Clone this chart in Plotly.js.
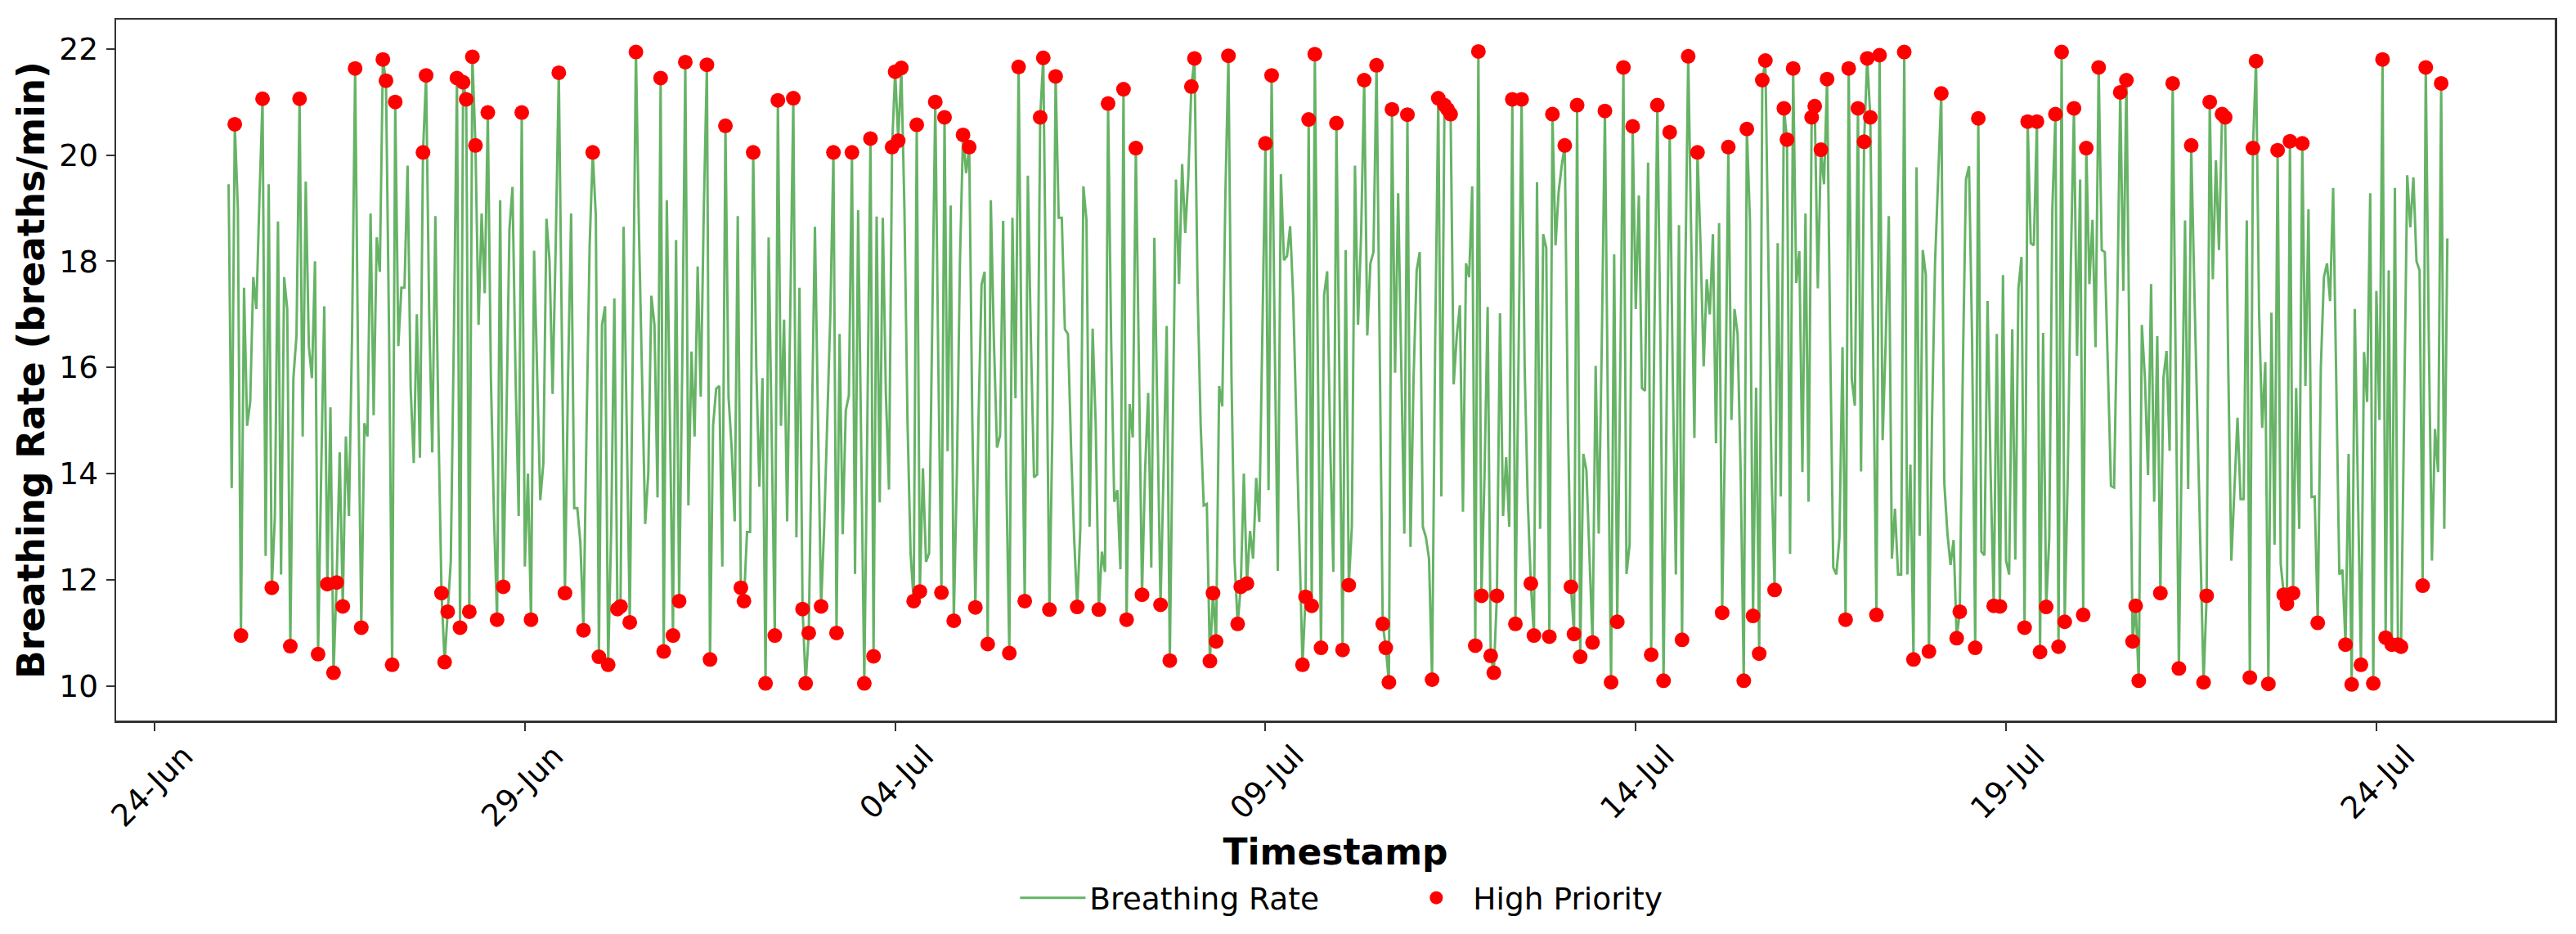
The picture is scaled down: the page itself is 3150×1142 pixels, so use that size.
<!DOCTYPE html>
<html>
<head>
<meta charset="utf-8">
<script src="https://cdn.plot.ly/plotly-3.0.1.min.js"></script>
<style>
  html, body { margin: 0; padding: 0; background: #fff; }
  #chart { width: 3150px; height: 1142px; }
</style>
</head>
<body>
<div id="chart"></div>
<script>
// hourly readings, one row per day, starting 25-Jun 00:00
const START_UTC = Date.UTC(2024, 5, 25, 0);
const BREATHING_RATE = [
  19.45, 13.73, 20.58, 19.0, 10.95, 17.5, 14.9, 15.35, 17.7, 17.1, 19.2, 21.06, 12.45, 19.45, 11.85, 13.2, 18.75, 12.1, 17.7, 17.1, 10.75, 15.8, 16.6, 21.06,
  14.7, 19.5, 16.4, 15.8, 18.0, 10.6, 14.0, 17.15, 11.92, 15.25, 10.25, 11.95, 14.4, 11.5, 14.7, 13.2, 16.6, 21.63, 15.8, 11.1, 14.95, 14.7, 18.9, 15.1,
  18.45, 17.8, 21.8, 21.4, 16.6, 10.4, 21.0, 16.4, 17.5, 17.5, 19.8, 15.6, 14.2, 17.0, 14.3, 20.05, 21.5, 17.0, 14.4, 18.85, 14.9, 11.75, 10.45, 11.4,
  12.35, 16.6, 21.45, 11.1, 21.37, 21.05, 11.4, 21.85, 20.18, 16.8, 18.9, 17.4, 20.8, 15.8, 13.2, 11.25, 19.15, 11.87, 14.9, 18.6, 19.4, 15.8, 13.2, 20.8,
  12.25, 14.0, 11.25, 18.2, 15.8, 13.5, 14.2, 18.8, 18.0, 15.5, 18.3, 21.55, 16.6, 11.75, 15.8, 18.9, 13.35, 13.35, 12.7, 11.05, 14.9, 18.3, 20.05, 18.85,
  10.55, 16.8, 17.15, 10.4, 13.0, 17.3, 11.45, 11.5, 18.65, 15.0, 11.2, 16.5, 21.94, 18.5, 15.5, 13.05, 14.0, 17.35, 16.8, 13.55, 21.45, 10.65, 19.15, 15.0,
  10.95, 18.4, 11.6, 16.0, 21.75, 13.4, 16.3, 14.7, 17.9, 15.45, 19.0, 21.7, 10.5, 14.9, 15.6, 15.65, 12.25, 20.55, 15.45, 14.5, 13.1, 18.85, 11.85, 11.6,
  12.9, 12.9, 20.05, 16.0, 13.75, 15.8, 10.05, 18.45, 15.0, 10.95, 21.03, 14.9, 16.9, 13.1, 17.0, 21.07, 12.8, 17.5, 11.45, 10.05, 11.0, 15.0, 18.65, 15.0,
  11.5, 13.0, 15.0, 17.0, 20.05, 11.0, 16.63, 12.86, 15.19, 15.47, 20.05, 12.11, 18.96, 14.5, 10.05, 15.0, 20.31, 10.56, 18.84, 13.46, 18.82, 15.5, 13.7, 20.15,
  21.57, 20.27, 21.64, 19.0, 15.0, 12.5, 11.6, 20.57, 11.78, 14.1, 12.34, 12.5, 17.0, 21.0, 16.0, 11.76, 20.71, 14.42, 19.05, 11.23, 14.0, 18.0, 20.38, 19.66,
  20.15, 15.0, 11.48, 15.0, 17.56, 17.8, 10.79, 19.15, 16.5, 14.49, 14.72, 18.76, 14.0, 10.62, 18.82, 15.42, 21.66, 16.0, 11.6, 19.61, 16.5, 13.93, 13.98, 20.71,
  21.83, 17.0, 11.44, 15.0, 21.48, 18.82, 18.82, 16.72, 16.63, 14.5, 12.8, 11.49, 12.96, 19.41, 18.77, 13.0, 16.73, 14.9, 11.44, 12.53, 12.15, 20.97, 16.5, 13.47,
  13.69, 12.2, 21.24, 11.25, 15.31, 14.68, 20.13, 16.0, 11.72, 14.07, 15.52, 12.23, 18.44, 15.0, 11.53, 14.07, 16.78, 10.48, 14.9, 19.54, 17.57, 19.83, 18.53, 19.6,
  21.29, 21.82, 17.49, 14.92, 13.4, 13.43, 10.47, 11.75, 10.84, 15.65, 15.27, 19.2, 21.87, 15.78, 12.36, 11.17, 11.87, 14.0, 11.93, 12.92, 12.4, 13.92, 13.09, 16.5,
  20.22, 13.69, 21.5, 16.5, 12.17, 19.64, 18.02, 18.1, 18.66, 17.3, 15.0, 12.5, 10.4, 11.68, 20.67, 11.51, 21.9, 16.0, 10.72, 17.36, 17.81, 14.5, 12.15, 20.6,
  15.5, 10.68, 18.21, 11.9, 13.0, 19.8, 16.8, 18.5, 21.41, 16.6, 17.96, 18.17, 21.69, 16.0, 11.17, 10.72, 10.07, 20.86, 15.9, 19.28, 15.8, 12.87, 20.76, 12.62,
  15.8, 17.83, 18.17, 13.0, 12.8, 12.4, 10.12, 16.5, 21.07, 13.57, 20.94, 20.86, 20.77, 15.68, 16.6, 17.17, 13.28, 17.96, 17.7, 19.41, 10.76, 21.95, 11.7, 14.0,
  17.14, 10.57, 10.25, 11.7, 17.02, 13.2, 14.31, 13.0, 21.05, 11.17, 16.0, 21.05, 16.0, 13.5, 11.93, 10.95, 19.49, 12.96, 18.51, 18.25, 10.93, 20.77, 18.3, 19.3,
  19.8, 20.18, 15.0, 11.87, 10.98, 20.94, 10.55, 14.37, 14.07, 12.5, 10.82, 16.03, 12.87, 16.5, 20.83, 15.0, 10.07, 18.13, 11.21, 16.0, 21.65, 12.11, 12.66, 20.54,
  17.1, 19.24, 15.61, 15.56, 19.86, 10.59, 16.6, 20.94, 16.5, 10.1, 15.0, 20.43, 15.8, 12.1, 18.68, 10.87, 17.5, 21.86, 18.34, 14.67, 20.05, 18.3, 16.02, 17.66,
  17.0, 18.51, 14.57, 18.72, 11.38, 15.01, 20.15, 15.01, 17.1, 16.63, 14.0, 10.1, 20.49, 18.77, 11.32, 15.62, 10.61, 21.41, 21.78, 17.5, 14.0, 11.81, 18.34, 13.57,
  20.88, 20.29, 12.49, 21.63, 17.59, 18.19, 14.03, 18.9, 13.47, 20.71, 20.92, 17.49, 20.1, 19.45, 21.43, 16.5, 12.23, 12.1, 12.79, 16.38, 11.25, 21.63, 15.78, 15.28,
  20.88, 14.04, 20.25, 21.82, 20.71, 16.0, 11.34, 21.88, 14.63, 16.5, 18.85, 12.4, 13.34, 12.1, 12.1, 21.94, 12.1, 14.17, 10.5, 19.77, 12.83, 18.21, 17.74, 10.65,
  15.0, 18.0, 19.5, 21.16, 13.81, 12.87, 12.28, 12.75, 10.9, 11.4, 16.0, 19.54, 19.79, 16.5, 10.72, 20.69, 12.53, 12.46, 17.25, 14.0, 11.51, 16.63, 11.5, 17.74,
  12.36, 12.1, 16.72, 12.38, 17.49, 18.08, 11.1, 20.63, 18.34, 18.3, 20.63, 10.64, 16.65, 11.49, 12.79, 19.0, 20.77, 10.74, 21.94, 11.21, 14.0, 18.0, 20.88, 16.22,
  19.54, 11.34, 20.13, 17.57, 18.78, 16.38, 21.65, 18.21, 18.17, 15.8, 13.77, 13.74, 17.0, 21.18, 17.44, 21.41, 15.8, 10.84, 11.51, 10.1, 16.8, 15.8, 13.97, 17.57,
  13.47, 16.59, 11.75, 15.8, 16.31, 14.43, 21.35, 15.8, 10.33, 14.9, 18.77, 13.71, 20.18, 17.5, 14.9, 12.4, 10.07, 11.7, 21.0, 17.66, 19.9, 18.21, 20.77, 20.71,
  16.0, 12.36, 13.64, 15.05, 13.52, 13.52, 18.77, 10.16, 20.13, 21.77, 17.0, 14.86, 16.1, 10.04, 17.03, 12.66, 20.09, 12.3, 11.72, 11.55, 20.26, 11.75, 15.61, 12.96,
  20.22, 15.65, 18.98, 13.56, 13.57, 11.19, 16.0, 17.7, 17.96, 17.25, 19.38, 15.5, 12.1, 12.19, 10.78, 14.37, 10.03, 17.1, 14.0, 10.4, 16.29, 15.35, 19.28, 10.05,
  17.44, 15.01, 21.8, 10.91, 17.83, 10.78, 19.38, 10.78, 10.74, 15.0, 19.62, 18.64, 19.58, 18.0, 17.83, 11.89, 21.65, 16.5, 12.36, 14.84, 14.03, 21.35, 12.96, 18.43
];

// readings outside the normal band get flagged
const LOW_LIMIT = 12;
const HIGH_LIMIT = 20;

const FONT = 'DejaVu Sans, Verdana, sans-serif';
const AXIS_COLOR = '#333';

function pad(n) { return String(n).padStart(2, '0'); }

function hourStamp(i) {
    const d = new Date(START_UTC + i * 3600 * 1000);
    return `${d.getUTCFullYear()}-${pad(d.getUTCMonth() + 1)}-${pad(d.getUTCDate())} ${pad(d.getUTCHours())}:00`;
}

const timestamps = BREATHING_RATE.map((_, i) => hourStamp(i));

const flaggedX = [];
const flaggedY = [];
BREATHING_RATE.forEach((v, i) => {
    if (v < LOW_LIMIT || v > HIGH_LIMIT) {
        flaggedX.push(timestamps[i]);
        flaggedY.push(v);
    }
});

const traceRate = {
    x: timestamps,
    y: BREATHING_RATE,
    type: 'scatter',
    mode: 'lines',
    name: 'Breathing Rate',
    line: { color: 'rgba(0,128,0,0.6)', width: 3 },
    hoverinfo: 'skip'
};

const traceHigh = {
    x: flaggedX,
    y: flaggedY,
    type: 'scatter',
    mode: 'markers',
    name: 'High Priority',
    marker: { color: '#ff0000', size: 18, line: { width: 0 } }
};

const axisCommon = {
    showline: true,
    mirror: true,
    linecolor: AXIS_COLOR,
    linewidth: 2.5,
    showgrid: false,
    zeroline: false,
    ticks: 'outside',
    ticklen: 10,
    tickwidth: 2,
    tickcolor: AXIS_COLOR,
    tickfont: { family: FONT, size: 37.5, color: '#000' }
};

const layout = {
    width: 3150,
    height: 1142,
    margin: { l: 141.5, r: 26, t: 24, b: 261 },
    paper_bgcolor: '#fff',
    plot_bgcolor: '#fff',
    font: { family: FONT, color: '#000' },
    showlegend: true,
    legend: {
        orientation: 'h',
        x: 0.369,
        xanchor: 'left',
        y: -0.253,
        yanchor: 'middle',
        font: { family: FONT, size: 37.5, color: '#000' },
        itemwidth: 80,
        entrywidth: 374,
        entrywidthmode: 'pixels',
        bgcolor: 'rgba(0,0,0,0)'
    },
    xaxis: Object.assign({}, axisCommon, {
        type: 'date',
        range: ['2024-06-23 11:33', '2024-07-26 09:48'],
        tick0: '2024-06-24',
        dtick: 5 * 24 * 3600 * 1000,
        tickformat: '%d-%b',
        tickangle: -45,
        ticklabelshift: 36,
        ticklabelstandoff: -6,
        title: {
            text: 'Timestamp',
            font: { family: FONT, size: 44, weight: 'bold', color: '#000' },
            standoff: 8
        }
    }),
    yaxis: Object.assign({}, axisCommon, {
        range: [9.35, 22.55],
        tick0: 10,
        dtick: 2,
        ticklabelstandoff: 2,
        title: {
            text: 'Breathing Rate (breaths/min)',
            font: { family: FONT, size: 45.5, weight: 'bold', color: '#000' },
            standoff: 4
        }
    })
};

Plotly.newPlot('chart', [traceRate, traceHigh], layout, { displayModeBar: false, staticPlot: true });
</script>
</body>
</html>
